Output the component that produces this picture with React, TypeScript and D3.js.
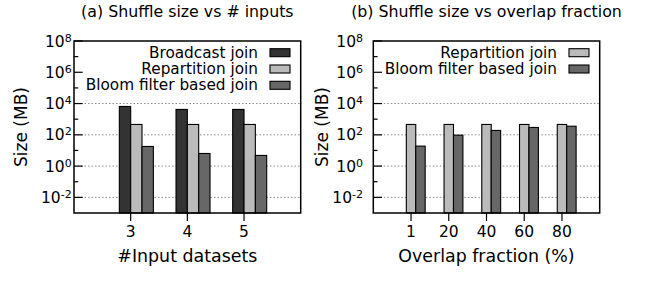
import * as d3 from "d3";
import React from "react";

// values (MB, log scale)
const inputCategories = ["3", "4", "5"];
const broadcastJoin = [6500, 4200, 4200];
const repartitionJoinA = [460, 460, 460];
const bloomJoinA = [18, 6.4, 4.8];

const overlapCategories = ["1", "20", "40", "60", "80"];
const repartitionJoinB = [460, 460, 460, 460, 460];
const bloomJoinB = [19, 95, 190, 295, 355];

const majorExps = [-2, 0, 2, 4, 6, 8];
const minorExps = [-1, 1, 3, 5, 7];
const gridExps = [-2, 0, 2, 4];

const FONT = "DejaVu Sans";

interface Series {
  name: string;
  values: number[];
  color: string;
}

interface PanelProps {
  title: string;
  xLabel: string;
  categories: string[];
  series: Series[];
  left: number;
  right: number;
  labelRight: number;
  yLabelX: number;
}

const top = 41;
const bottom = 213;

const Panel: React.FC<PanelProps> = ({
  title,
  xLabel,
  categories,
  series,
  left,
  right,
  labelRight,
  yLabelX,
}) => {
  const x = d3.scaleLinear().domain([-1, categories.length]).range([left, right]);
  const y = d3.scaleLog().domain([1e-3, 1e8]).range([bottom, top]);
  const w = 1 / (series.length + 2);
  const cx = (left + right) / 2;

  return (
    <g fontFamily={FONT} fill="#000">
      <text x={cx} y={16.5} textAnchor="middle" fontSize={15.8}>
        {title}
      </text>

      {/* grid */}
      {gridExps.map((e) => (
        <line
          key={"g" + e}
          x1={left}
          x2={right}
          y1={y(10 ** e)}
          y2={y(10 ** e)}
          stroke="#8a8a8a"
          strokeWidth={1}
          strokeDasharray="1.5,2"
        />
      ))}

      {/* bars */}
      {series.map((s, j) =>
        s.values.map((v, i) => {
          const x0 = x(i + (j - (series.length - 1) / 2) * w);
          const x1 = x(i + (j - (series.length - 1) / 2) * w + w);
          return (
            <rect
              key={s.name + i}
              x={x0}
              y={y(v)}
              width={x1 - x0}
              height={bottom - y(v)}
              fill={s.color}
              stroke="#000"
              strokeWidth={1.1}
            />
          );
        })
      )}

      {/* y ticks */}
      {majorExps.map((e) => (
        <g key={"t" + e}>
          <line x1={left} x2={left + 8.7} y1={y(10 ** e)} y2={y(10 ** e)} stroke="#000" strokeWidth={1.2} />
          <text x={labelRight} y={y(10 ** e) + 5.5} textAnchor="end" fontSize={15.5}>
            <tspan>10</tspan>
            <tspan fontSize={11} dy={-5}>
              {String(e)}
            </tspan>
          </text>
        </g>
      ))}
      {minorExps.map((e) => (
        <line key={"m" + e} x1={left} x2={left + 4.3} y1={y(10 ** e)} y2={y(10 ** e)} stroke="#000" strokeWidth={1.2} />
      ))}

      {/* x ticks */}
      {categories.map((c, i) => (
        <g key={"x" + c}>
          <line x1={x(i)} x2={x(i)} y1={bottom} y2={bottom + 8} stroke="#000" strokeWidth={1.2} />
          <text x={x(i)} y={237} textAnchor="middle" fontSize={15.5}>
            {c}
          </text>
        </g>
      ))}

      <rect x={left} y={top} width={right - left} height={bottom - top} fill="none" stroke="#000" strokeWidth={1.5} />

      {/* legend */}
      {series.map((s, j) => {
        const ly = 52.7 + j * 16.3;
        return (
          <g key={"l" + s.name}>
            <text x={right - 42.7} y={ly} textAnchor="end" dominantBaseline="central" fontSize={15.3}>
              {s.name}
            </text>
            <rect x={right - 30.7} y={ly - 4} width={20} height={8} fill={s.color} stroke="#000" strokeWidth={1.1} />
          </g>
        );
      })}

      <text x={cx} y={262} textAnchor="middle" fontSize={17.4}>
        {xLabel}
      </text>
      <text
        transform={`translate(${yLabelX},${(top + bottom) / 2}) rotate(-90)`}
        textAnchor="middle"
        dominantBaseline="central"
        fontSize={17}
      >
        Size (MB)
      </text>
    </g>
  );
};

export default function App() {
  return (
    <svg
      width={645}
      height={282}
      style={{ position: "absolute", left: 0, top: 0, background: "#fff" }}
    >
      <rect width={645} height={282} fill="#fff" />
      <Panel
        title="(a) Shuffle size vs # inputs"
        xLabel="#Input datasets"
        categories={inputCategories}
        series={[
          { name: "Broadcast join", values: broadcastJoin, color: "#333333" },
          { name: "Repartition join", values: repartitionJoinA, color: "#bbbbbb" },
          { name: "Bloom filter based join", values: bloomJoinA, color: "#676767" },
        ]}
        left={74}
        right={300.7}
        labelRight={71.7}
        yLabelX={21}
      />
      <Panel
        title="(b) Shuffle size vs overlap fraction"
        xLabel="Overlap fraction (%)"
        categories={overlapCategories}
        series={[
          { name: "Repartition join", values: repartitionJoinB, color: "#bbbbbb" },
          { name: "Bloom filter based join", values: bloomJoinB, color: "#676767" },
        ]}
        left={373.3}
        right={599.7}
        labelRight={363}
        yLabelX={322}
      />
    </svg>
  );
}
